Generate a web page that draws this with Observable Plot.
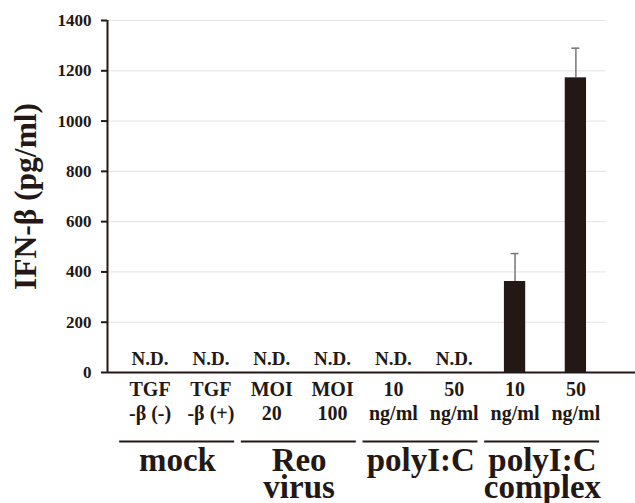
<!DOCTYPE html>
<html>
<head>
<meta charset="utf-8">
<script src="https://cdn.jsdelivr.net/npm/d3@7"></script>
<script src="https://cdn.jsdelivr.net/npm/@observablehq/plot@0.6"></script>
<style>
  html, body { margin: 0; padding: 0; background: #fff; }
  #chart svg { font-family: "Liberation Serif", "Times New Roman", serif; color: #231815; }
</style>
</head>
<body>
<div id="chart"></div>
<script>
// ---- data ----
const categories = ["TGF-β(-)", "TGF-β(+)", "MOI 20", "MOI 100", "polyI:C 10", "polyI:C 50", "complex 10", "complex 50"];
const tickLine1 = ["TGF", "TGF", "MOI", "MOI", "10", "50", "10", "50"];
const tickLine2 = ["-β (-)", "-β (+)", "20", "100", "ng/ml", "ng/ml", "ng/ml", "ng/ml"];
const values = [null, null, null, null, null, null, 362, 1172];
const errors = [null, null, null, null, null, null, 111, 118];
const ndText = "N.D.";
const groupNames = ["mock", "Reo\nvirus", "polyI:C", "polyI:C\ncomplex"];
const groupFirst = [0, 2, 4, 6];
const groupLast = [1, 3, 5, 7];
const yTicks = [0, 200, 400, 600, 800, 1000, 1200, 1400];
const yLabel = "IFN-β (pg/ml)";

// ---- tables ----
const rows = categories.map((c, i) => ({i, c, value: values[i], err: errors[i], l1: tickLine1[i], l2: tickLine2[i]}));
const measured = rows.filter(d => d.value != null);
const notDetected = rows.filter(d => d.value == null);
const groups = groupNames.map((g, k) => ({g, a: groupFirst[k], b: groupLast[k]}));

const dark = "#231815";
const xMin = -0.7, xMax = 7.98;

const chart = Plot.plot({
  width: 635,
  height: 503,
  marginTop: 20,
  marginBottom: 131,
  marginLeft: 107,
  marginRight: 0,
  x: {type: "linear", domain: [xMin, xMax], axis: null},
  y: {domain: [0, 1400], axis: null},
  marks: [
    // gridlines
    Plot.ruleY(yTicks.slice(1), {x1: xMin, x2: categories.length - 0.5, stroke: "#e3e3e3", strokeWidth: 1}),
    // y axis
    Plot.axisY({ticks: yTicks, tickFormat: d => String(d), tickSize: 6, tickPadding: 10,
      fontSize: 17, fontWeight: "bold", strokeWidth: 2, label: null}),
    Plot.ruleX([xMin], {y1: 0, y2: 1400, stroke: dark, strokeWidth: 2}),
    // error bars
    Plot.ruleX(measured, {x: "i", y1: "value", y2: d => d.value + d.err, stroke: "#777", strokeWidth: 1.5}),
    Plot.ruleY(measured, {y: d => d.value + d.err, x1: d => d.i - 0.065, x2: d => d.i + 0.065, stroke: "#777", strokeWidth: 1.5}),
    // bars
    Plot.rectY(measured, {x1: d => d.i - 0.175, x2: d => d.i + 0.175, y1: 0, y2: "value", fill: dark}),
    // x axis line
    Plot.ruleY([0], {x1: xMin, x2: xMax, stroke: dark, strokeWidth: 2}),
    // N.D. labels
    Plot.text(notDetected, {x: "i", y: 0, text: () => ndText, lineAnchor: "bottom", dy: -8,
      fontSize: 19, fontWeight: "bold", fill: dark}),
    // category labels
    Plot.text(rows, {x: "i", y: 0, text: d => d.l1 + "\n" + d.l2, lineAnchor: "top", dy: 6.5,
      lineHeight: 1.2, fontSize: 20, fontWeight: "bold", fill: dark}),
    // group lines
    Plot.ruleY(groups, {y: 0, x1: d => d.a - 0.5, x2: d => d.b + 0.39, dy: 69, stroke: dark, strokeWidth: 2}),
    // group labels
    Plot.text(groups, {x: d => (d.a + d.b) / 2 - 0.05, y: 0, text: "g", lineAnchor: "top", dy: 80,
      lineHeight: 0.8, fontSize: 33, fontWeight: "bold", fill: dark}),
    // y title
    Plot.text([yLabel], {frameAnchor: "left", textAnchor: "middle", text: d => d, rotate: -90, dx: -82,
      fontSize: 31.5, fontWeight: "bold", fill: dark})
  ]
});
document.getElementById("chart").appendChild(chart);
</script>
</body>
</html>
